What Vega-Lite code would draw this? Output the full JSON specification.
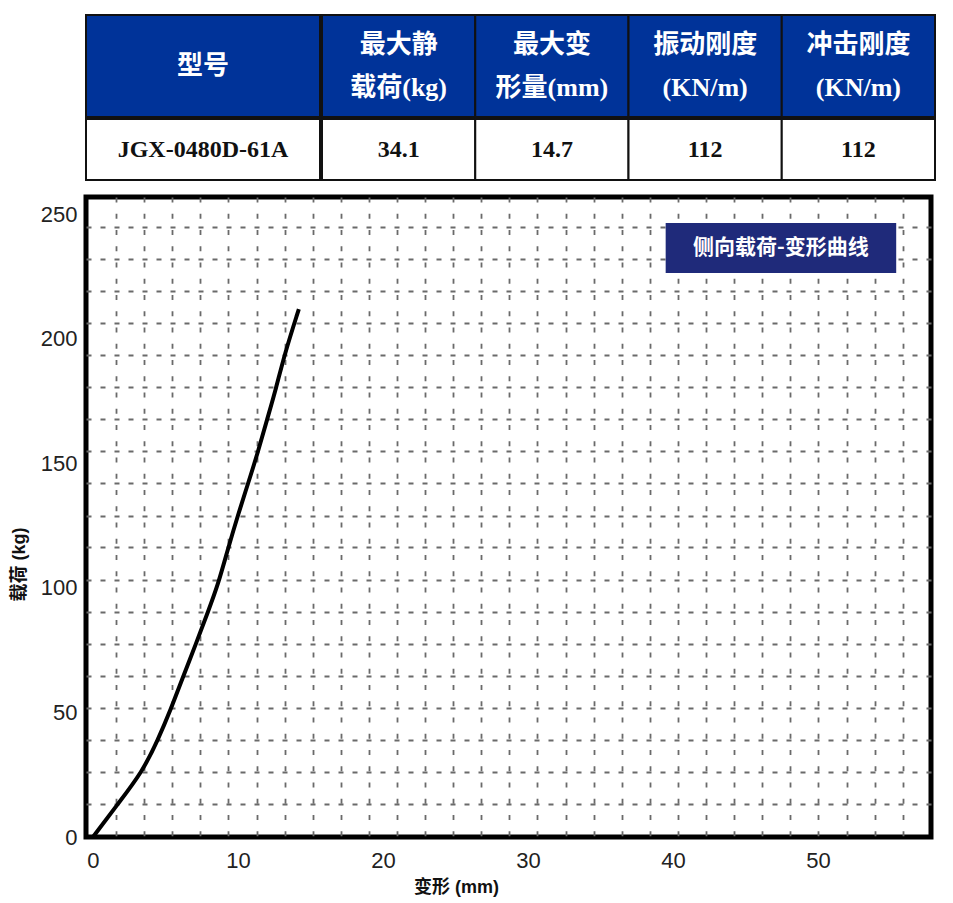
{
  "$schema": "https://vega.github.io/schema/vega-lite/v6.json",
  "background": "white",
  "padding": {"left": 7, "top": 14, "right": 0, "bottom": 0},
  "config": {
    "view": {"stroke": null},
    "axis": {
      "labelFont": "Liberation Sans",
      "labelFontSize": 22,
      "labelColor": "#222",
      "titleFont": "Liberation Sans, Noto Sans CJK SC",
      "titleFontWeight": "bold",
      "titleFontSize": 18,
      "titleColor": "#111",
      "domain": false,
      "ticks": false,
      "tickSize": 0,
      "tickCount": 200,
      "labelOverlap": false,
      "gridColor": "#6a6a6a",
      "gridWidth": 1.8
    }
  },
  "datasets": {
    "specs": [
      {"col": "型号", "head": "型号", "value": "JGX-0480D-61A"},
      {"col": "最大静载荷", "head": "最大静\n载荷(kg)", "value": "34.1"},
      {"col": "最大变形量", "head": "最大变\n形量(mm)", "value": "14.7"},
      {"col": "振动刚度", "head": "振动刚度\n(KN/m)", "value": "112"},
      {"col": "冲击刚度", "head": "冲击刚度\n(KN/m)", "value": "112"}
    ],
    "curve": [
      {"deform": 0, "load": 0},
      {"deform": 1.72, "load": 13.3},
      {"deform": 3.4, "load": 26.1},
      {"deform": 4.48, "load": 39.0},
      {"deform": 5.38, "load": 51.4},
      {"deform": 6.21, "load": 64.3},
      {"deform": 7.1, "load": 77.5},
      {"deform": 7.93, "load": 90.4},
      {"deform": 8.62, "load": 101.2},
      {"deform": 9.31, "load": 115.7},
      {"deform": 10.0, "load": 129.3},
      {"deform": 10.69, "load": 141.8},
      {"deform": 11.38, "load": 154.6},
      {"deform": 12.0, "load": 167.5},
      {"deform": 12.62, "load": 179.9},
      {"deform": 13.2, "load": 193.6},
      {"deform": 14.2, "load": 212}
    ]
  },
  "spacing": 13,
  "vconcat": [
    {
      "spacing": 0,
      "vconcat": [
        {
          "spacing": 0,
          "hconcat": [
            {
              "data": {"name": "specs"},
              "transform": [{"filter": "datum.col === '型号'"}],
              "width": 234,
              "height": 102,
              "layer": [
                {
                  "mark": {"type": "rect", "fill": "#003399", "stroke": "#111", "strokeWidth": 2},
                  "encoding": {"x": {"field": "col", "type": "nominal", "sort": null, "axis": null, "scale": {"paddingInner": 0, "paddingOuter": 0}}}
                },
                {
                  "mark": {"type": "text", "color": "white", "font": "Liberation Serif, Noto Sans CJK SC", "fontWeight": "bold", "fontSize": 26},
                  "encoding": {
                    "x": {"field": "col", "type": "nominal", "sort": null, "axis": null, "scale": {"paddingInner": 0, "paddingOuter": 0}},
                    "text": {"field": "head"}
                  }
                }
              ]
            },
            {
              "data": {"name": "specs"},
              "transform": [{"filter": "datum.col !== '型号'"}],
              "width": 613,
              "height": 102,
              "layer": [
                {
                  "mark": {"type": "rect", "fill": "#003399", "stroke": "#111", "strokeWidth": 2},
                  "encoding": {"x": {"field": "col", "type": "nominal", "sort": null, "axis": null, "scale": {"paddingInner": 0, "paddingOuter": 0}}}
                },
                {
                  "mark": {"type": "text", "color": "white", "font": "Liberation Serif, Noto Sans CJK SC", "fontWeight": "bold", "fontSize": 26, "lineBreak": "\n", "lineHeight": 43, "dy": -21},
                  "encoding": {
                    "x": {"field": "col", "type": "nominal", "sort": null, "axis": null, "scale": {"paddingInner": 0, "paddingOuter": 0}},
                    "text": {"field": "head"}
                  }
                }
              ]
            }
          ]
        },
        {
          "spacing": 0,
          "hconcat": [
            {
              "data": {"name": "specs"},
              "transform": [{"filter": "datum.col === '型号'"}],
              "width": 234,
              "height": 61,
              "layer": [
                {
                  "mark": {"type": "rect", "fill": "white", "stroke": "#111", "strokeWidth": 2},
                  "encoding": {"x": {"field": "col", "type": "nominal", "sort": null, "axis": null, "scale": {"paddingInner": 0, "paddingOuter": 0}}}
                },
                {
                  "mark": {"type": "text", "color": "#111", "font": "Liberation Serif", "fontWeight": "bold", "fontSize": 24},
                  "encoding": {
                    "x": {"field": "col", "type": "nominal", "sort": null, "axis": null, "scale": {"paddingInner": 0, "paddingOuter": 0}},
                    "text": {"field": "value"}
                  }
                }
              ]
            },
            {
              "data": {"name": "specs"},
              "transform": [{"filter": "datum.col !== '型号'"}],
              "width": 613,
              "height": 61,
              "layer": [
                {
                  "mark": {"type": "rect", "fill": "white", "stroke": "#111", "strokeWidth": 2},
                  "encoding": {"x": {"field": "col", "type": "nominal", "sort": null, "axis": null, "scale": {"paddingInner": 0, "paddingOuter": 0}}}
                },
                {
                  "mark": {"type": "text", "color": "#111", "font": "Liberation Serif", "fontWeight": "bold", "fontSize": 24},
                  "encoding": {
                    "x": {"field": "col", "type": "nominal", "sort": null, "axis": null, "scale": {"paddingInner": 0, "paddingOuter": 0}},
                    "text": {"field": "value"}
                  }
                }
              ]
            }
          ]
        }
      ]
    },
    {
      "width": 845,
      "height": 640,
      "view": {"stroke": "#000", "strokeWidth": 5},
      "layer": [
        {
          "data": {"name": "curve"},
          "mark": {"type": "line", "color": "#000", "strokeWidth": 4, "interpolate": "basis"},
          "encoding": {
            "x": {
              "field": "deform",
              "type": "quantitative",
              "title": "变形 (mm)",
              "scale": {"domain": [-0.48, 57.8], "nice": false, "zero": false},
              "axis": {
                "values": [0, 1.59, 3.53, 5.47, 7.4, 9.34, 10, 11.28, 13.22, 15.16, 17.09, 19.03, 20, 20.97, 22.91, 24.85, 26.78, 28.72, 30, 30.66, 32.6, 34.54, 36.47, 38.41, 40, 40.35, 42.29, 44.23, 46.16, 48.1, 50, 50.04, 51.98, 53.92, 55.85],
                "labelExpr": "datum.value % 10 === 0 ? format(datum.value, 'd') : ''",
                "labelPadding": 13,
                "grid": true,
                "gridDash": [5, 11.25],
                "gridOpacity": {"condition": {"test": "datum.value % 10 === 0", "value": 0}, "value": 1},
                "titleX": 370,
                "titlePadding": 7
              }
            },
            "y": {
              "field": "load",
              "type": "quantitative",
              "title": "载荷 (kg)",
              "scale": {"domain": [0, 257], "nice": false, "zero": false},
              "axis": {
                "values": [0, 13.3, 26.2, 39.0, 50, 51.9, 64.8, 77.7, 90.5, 100, 103.4, 116.3, 129.1, 142.0, 150, 154.9, 167.8, 180.6, 193.5, 200, 206.4, 219.2, 232.1, 245.0, 250],
                "labelExpr": "datum.value % 50 === 0 ? format(datum.value, 'd') : ''",
                "labelPadding": 9,
                "grid": true,
                "gridDash": [5, 9],
                "gridOpacity": {"condition": {"test": "datum.value % 50 === 0", "value": 0}, "value": 1},
                "titleY": 367,
                "titlePadding": 12
              }
            }
          }
        },
        {
          "data": {"values": [{}]},
          "mark": {"type": "rect", "fill": "#1f2a7a"},
          "encoding": {
            "x": {"datum": 39.5, "type": "quantitative"},
            "x2": {"datum": 55.4},
            "y": {"datum": 246.6, "type": "quantitative"},
            "y2": {"datum": 226.5}
          }
        },
        {
          "data": {"values": [{}]},
          "mark": {"type": "text", "color": "white", "font": "Noto Sans CJK SC", "fontWeight": "bold", "fontSize": 21, "text": "侧向载荷-变形曲线"},
          "encoding": {
            "x": {"datum": 47.45, "type": "quantitative"},
            "y": {"datum": 236.5, "type": "quantitative"}
          }
        }
      ]
    }
  ]
}
